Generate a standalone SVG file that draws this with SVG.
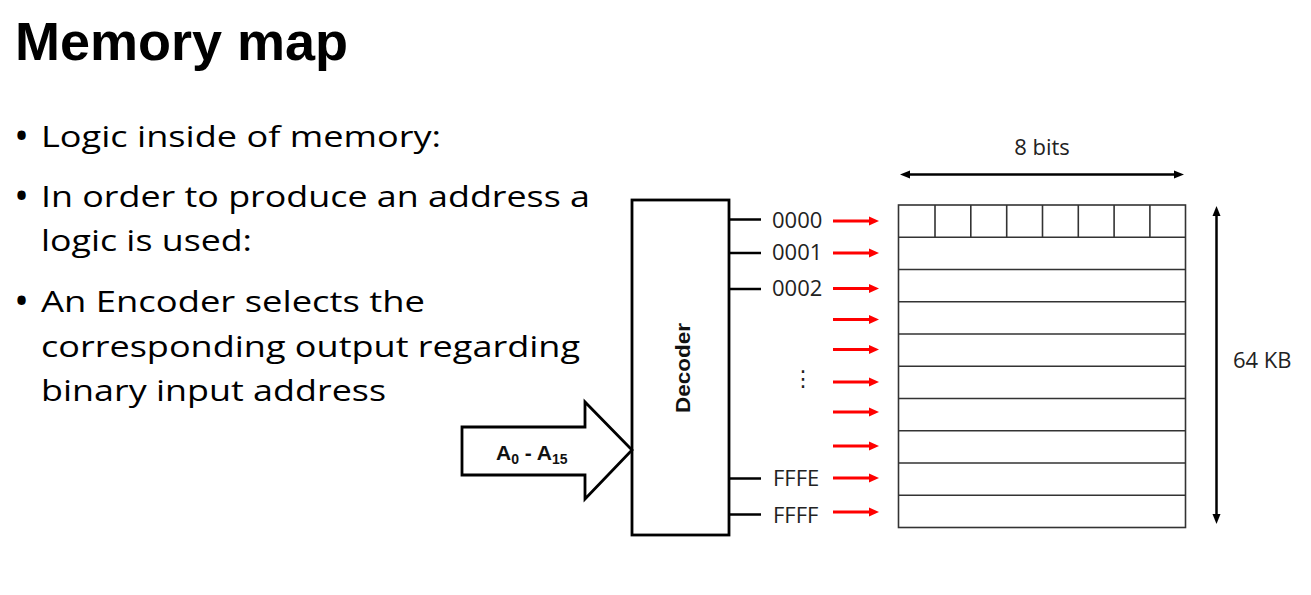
<svg xmlns="http://www.w3.org/2000/svg" width="1311" height="595" viewBox="0 0 1311 595">
<defs>
<style>
.title{font-family:"Liberation Sans",Arial,sans-serif;font-weight:bold;font-size:54px;fill:#000}
.bul{font-family:"Open Sans","Noto Sans",sans-serif;font-size:29px;fill:#000}
.dot{font-family:"Open Sans","Noto Sans",sans-serif;font-size:40px;fill:#000}
.lbl{font-family:"Open Sans","Noto Sans",sans-serif;font-size:22px;fill:#222}
.blk{fill:none;stroke:#000;stroke-width:2.8}
.stub{stroke:#000;stroke-width:2.5}
.red{stroke:#f00;stroke-width:2.8;marker-end:url(#ra)}
.dim{stroke:#000;stroke-width:2.5;marker-start:url(#ba);marker-end:url(#ba)}
.grid{fill:none;stroke:#333;stroke-width:1.6}
</style>
<marker id="ra" markerUnits="userSpaceOnUse" markerWidth="12" markerHeight="10" refX="2" refY="5" orient="auto">
<path d="M0,0.5 L10,5 L0,9.5 Z" fill="#f00"/>
</marker>
<marker id="ba" markerUnits="userSpaceOnUse" markerWidth="12" markerHeight="10" refX="2" refY="5" orient="auto-start-reverse">
<path d="M0,1 L10,5 L0,9 Z" fill="#000"/>
</marker>
</defs>
<rect width="1311" height="595" fill="#fff"/>

<g id="title">
<text class="title" x="15" y="60">Memory map</text>
</g>

<g id="bullets" class="bul">
<text class="dot" x="14" y="150">•</text>
<text x="41" y="147" textLength="400" lengthAdjust="spacingAndGlyphs">Logic inside of memory:</text>
<text class="dot" x="14" y="210">•</text>
<text x="41" y="207" textLength="549" lengthAdjust="spacingAndGlyphs">In order to produce an address a</text>
<text x="41" y="251" textLength="211" lengthAdjust="spacingAndGlyphs">logic is used:</text>
<text class="dot" x="14" y="315">•</text>
<text x="41" y="312" textLength="384" lengthAdjust="spacingAndGlyphs">An Encoder selects the</text>
<text x="41" y="357" textLength="539" lengthAdjust="spacingAndGlyphs">corresponding output regarding</text>
<text x="41" y="401" textLength="345" lengthAdjust="spacingAndGlyphs">binary input address</text>
</g>

<g id="address-bus">
<path class="blk" d="M462,427 L585,427 L585,402 L632,450 L585,499 L585,475 L462,475 Z" stroke-linejoin="miter"/>
<text x="496" y="460" font-family="'Liberation Sans',Arial,sans-serif" font-weight="bold" font-size="21" fill="#111">A<tspan font-size="14" dy="4">0</tspan><tspan dy="-4"> - A</tspan><tspan font-size="14" dy="4">15</tspan></text>
</g>

<g id="decoder">
<rect class="blk" x="632" y="200" width="97" height="335"/>
<text transform="translate(690,368) rotate(-90)" text-anchor="middle" font-family="'Liberation Sans',Arial,sans-serif" font-weight="bold" font-size="20" fill="#111" textLength="90" lengthAdjust="spacingAndGlyphs">Decoder</text>
</g>

<g id="addresses" class="lbl">
<text x="772" y="228">0000</text>
<text x="772" y="260">0001</text>
<text x="772" y="296">0002</text>
<text x="792" y="386" font-family="'DejaVu Sans',sans-serif" font-size="22">⋮</text>
<text x="773" y="486">FFFE</text>
<text x="773" y="523">FFFF</text>
</g>

<g id="memory">
<rect class="grid" x="898.5" y="205" width="287" height="322.5"/>
<g class="grid">
<path d="M935,205 V237.3 M970.8,205 V237.3 M1006.7,205 V237.3 M1042.5,205 V237.3 M1078.3,205 V237.3 M1114.1,205 V237.3 M1149.9,205 V237.3"/>
<path d="M898.5,237.3 H1185.5 M898.5,269.5 H1185.5 M898.5,301.8 H1185.5 M898.5,334 H1185.5 M898.5,366.3 H1185.5 M898.5,398.5 H1185.5 M898.5,430.8 H1185.5 M898.5,463 H1185.5 M898.5,495.3 H1185.5"/>
</g>
</g>

<g id="connectors">
<g class="stub">
<line x1="729" y1="219.5" x2="761" y2="219.5"/>
<line x1="729" y1="253" x2="761" y2="253"/>
<line x1="729" y1="289" x2="761" y2="289"/>
<line x1="729" y1="478.5" x2="761" y2="478.5"/>
<line x1="729" y1="514.5" x2="761" y2="514.5"/>
</g>
<g>
<line class="red" x1="833" y1="221" x2="871" y2="221"/>
<line class="red" x1="833" y1="253" x2="871" y2="253"/>
<line class="red" x1="833" y1="288.5" x2="871" y2="288.5"/>
<line class="red" x1="833" y1="319.5" x2="871" y2="319.5"/>
<line class="red" x1="833" y1="349.5" x2="871" y2="349.5"/>
<line class="red" x1="833" y1="382" x2="871" y2="382"/>
<line class="red" x1="833" y1="412" x2="871" y2="412"/>
<line class="red" x1="833" y1="446" x2="871" y2="446"/>
<line class="red" x1="833" y1="478" x2="871" y2="478"/>
<line class="red" x1="833" y1="512" x2="871" y2="512"/>
</g>
<line class="dim" x1="908" y1="174.5" x2="1176" y2="174.5"/>
<line class="dim" x1="1216.5" y1="214" x2="1216.5" y2="516"/>
</g>

<g id="dim-labels" class="lbl">
<text x="1042" y="155" text-anchor="middle">8 bits</text>
<text x="1233" y="368">64 KB</text>
</g>
</svg>
